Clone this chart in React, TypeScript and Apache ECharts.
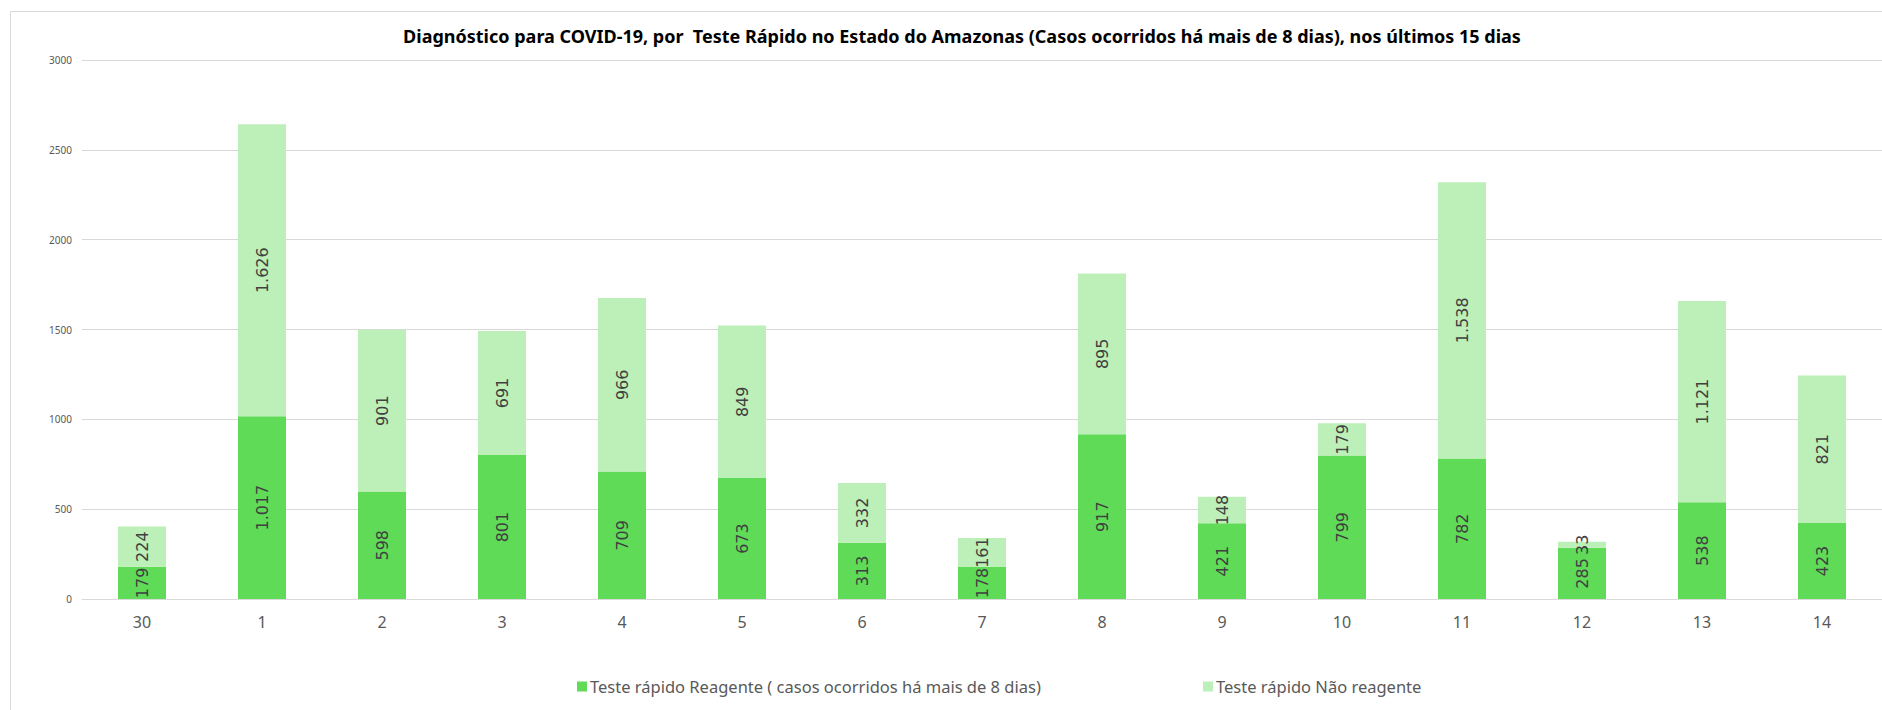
import React, { useEffect, useRef } from "react";
import * as echarts from "echarts";

const TITLE =
  "Diagnóstico para COVID-19, por  Teste Rápido no Estado do Amazonas (Casos ocorridos há mais de 8 dias), nos últimos 15 dias";
const days = ["30", "1", "2", "3", "4", "5", "6", "7", "8", "9", "10", "11", "12", "13", "14"];
const reagenteName = "Teste rápido Reagente ( casos ocorridos há mais de 8 dias)";
const naoReagenteName = "Teste rápido Não reagente";
const reagente = [179, 1017, 598, 801, 709, 673, 313, 178, 917, 421, 799, 782, 285, 538, 423];
const naoReagente = [224, 1626, 901, 691, 966, 849, 332, 161, 895, 148, 179, 1538, 33, 1121, 821];
const yTicks = { min: 0, max: 3000, interval: 500 };

const fmt = (v: number) => String(v).replace(/\B(?=(\d{3})+(?!\d))/g, ".");

export default function App() {
  const ref = useRef<HTMLDivElement>(null);
  useEffect(() => {
    document.body.style.margin = "0";
    const chart = echarts.init(ref.current!, undefined, { renderer: "svg" });
    const labelCfg = {
      show: true,
      position: "inside",
      rotate: 90,
      fontFamily: "DejaVu Sans",
      fontSize: 16,
      color: "#404040",
      formatter: (p: any) => fmt(p.value),
    };
    const legendText = {
      fontFamily: "Noto Sans",
      fontSize: 16.5,
      color: "#595959",
      padding: [0, 0, 0, -2],
    };
    chart.setOption({
      animation: false,
      backgroundColor: "#ffffff",
      title: {
        text: TITLE,
        left: 957,
        textAlign: "center",
        top: 22,
        textStyle: {
          fontFamily: "Noto Sans",
          fontWeight: "bold",
          fontSize: 18,
          color: "#000000",
        },
      },
      graphic: [
        {
          type: "rect",
          shape: { x: 10.5, y: 11.5, width: 1900, height: 720 },
          style: { fill: "none", stroke: "#d9d9d9", lineWidth: 1 },
          silent: true,
        },
      ],
      legend: [
        {
          data: [reagenteName],
          left: 572,
          top: 673,
          itemWidth: 10,
          itemHeight: 10,
          itemGap: 4,
          icon: "rect",
          textStyle: legendText,
        },
        {
          data: [naoReagenteName],
          left: 1198,
          top: 673,
          itemWidth: 10,
          itemHeight: 10,
          icon: "rect",
          textStyle: legendText,
        },
      ],
      grid: { left: 82, right: 0, top: 60, bottom: 111, containLabel: false },
      xAxis: {
        type: "category",
        data: days,
        axisLine: { lineStyle: { color: "#d9d9d9", width: 1 } },
        axisTick: { show: false },
        axisLabel: {
          fontFamily: "Noto Sans",
          fontSize: 16,
          color: "#595959",
          margin: 15,
        },
      },
      yAxis: {
        type: "value",
        min: yTicks.min,
        max: yTicks.max,
        interval: yTicks.interval,
        axisLine: { show: false },
        axisTick: { show: false },
        splitLine: { lineStyle: { color: "#d9d9d9", width: 1 } },
        axisLabel: {
          fontFamily: "Noto Sans",
          fontSize: 10,
          color: "#595959",
          margin: 10,
          formatter: (v: number) => String(v),
        },
      },
      series: [
        {
          name: reagenteName,
          type: "bar",
          stack: "total",
          data: reagente,
          barWidth: 48,
          itemStyle: { color: "#5fdb58" },
          label: labelCfg,
        },
        {
          name: naoReagenteName,
          type: "bar",
          stack: "total",
          data: naoReagente,
          barWidth: 48,
          itemStyle: { color: "#bdefb8" },
          label: labelCfg,
        },
      ],
    });
    return () => chart.dispose();
  }, []);
  return (
    <div
      ref={ref}
      style={{ position: "absolute", left: 0, top: 0, width: 1882, height: 710 }}
    />
  );
}
